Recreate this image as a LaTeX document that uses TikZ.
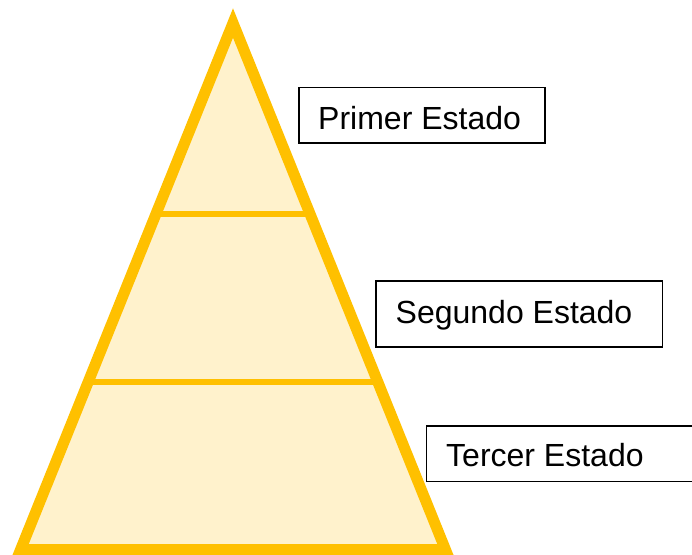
\documentclass[tikz,border=0pt]{standalone}
\usepackage{fontspec}
\setmainfont{Liberation Sans}
\usetikzlibrary{calc}
\definecolor{pyrline}{HTML}{FFC000}
\definecolor{pyrfill}{HTML}{FFF2CC}
\tikzset{
  border/.style={draw=pyrline, line width=11pt, miter limit=10, line join=miter},
  divider/.style={draw=pyrline, line width=6pt},
  labelbox/.style={draw=black, line width=1.7pt, rectangle, inner sep=0pt},
  labeltext/.style={inner sep=0pt, anchor=base west, font=\fontsize{32pt}{36pt}\selectfont}
}
\begin{document}
\begin{tikzpicture}[x=1pt,y=-1pt]
\useasboundingbox (0,0) rectangle (692,554);
\clip (0,0) rectangle (692,554);
\coordinate (A) at (233,23);
\coordinate (L) at (20.6,549.5);
\coordinate (R) at (445.4,549.5);
\fill[pyrfill] (A) -- (L) -- (R) -- cycle;
\coordinate (d1l) at ($(A)!0.3622!(L)$);
\coordinate (d1r) at ($(A)!0.3622!(R)$);
\coordinate (d2l) at ($(A)!0.6813!(L)$);
\coordinate (d2r) at ($(A)!0.6813!(R)$);
\draw[divider] (d1l) -- (d1r);
\draw[divider] (d2l) -- (d2r);
\draw[border] (A) -- (L) -- (R) -- cycle;
% boxes
\node[labelbox, minimum width=245.7pt, minimum height=55.6pt, anchor=north west] (b1) at (298.3,86.7) {};
\node[labelbox, minimum width=286.7pt, minimum height=66pt, anchor=north west] (b2) at (375,280) {};
\node[labelbox, minimum width=300pt, minimum height=55.7pt, anchor=north west] (b3) at (425.7,425) {};
\node[labeltext] (t1) at (318,129.3) {Primer Estado};
\node[labeltext] (t2) at (395.5,323.3) {Segundo Estado};
\node[labeltext] (t3) at (446,466) {Tercer Estado};
\end{tikzpicture}
\end{document}
